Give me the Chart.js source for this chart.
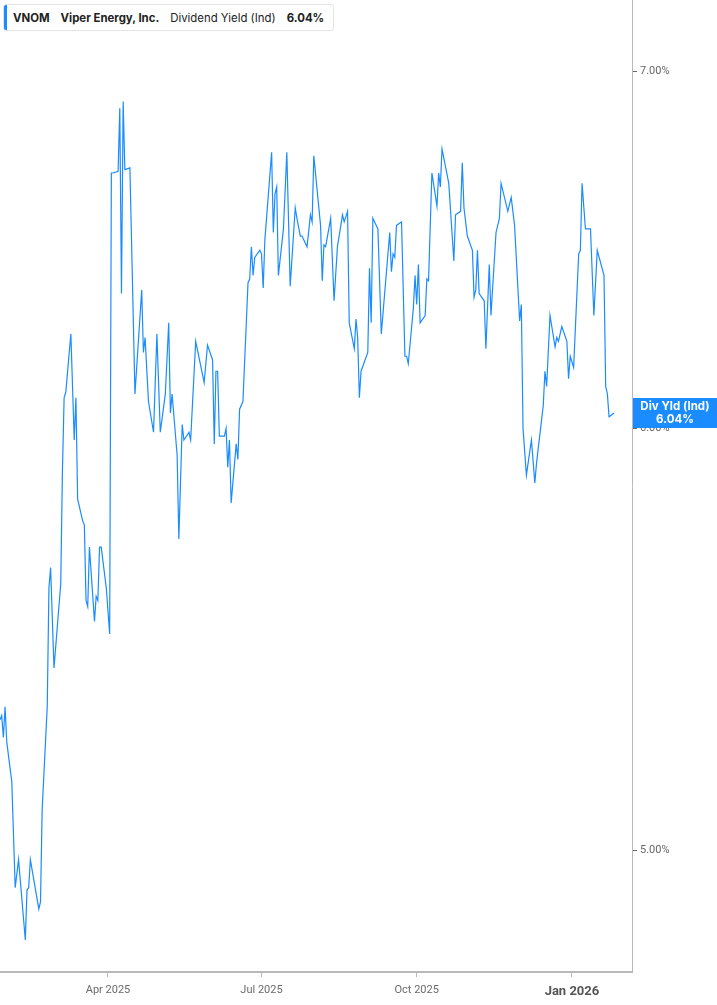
<!DOCTYPE html>
<html>
<head>
<meta charset="utf-8">
<title>VNOM Dividend Yield</title>
<script src="https://cdn.jsdelivr.net/npm/chart.js@4.4.1/dist/chart.umd.min.js"></script>
<style>
  html, body { margin: 0; padding: 0; background: #fff; }
  #wrap { position: relative; width: 717px; height: 1005px; }
  #legend {
    position: absolute; left: 3px; top: 4px; width: 331px; height: 27px;
    box-sizing: border-box; border: 1px solid #e4e4e4; border-radius: 3px;
    background: #fff; font: 11.4px Inter, "Noto Sans", sans-serif; color: #222;
    display: flex; align-items: center; padding-left: 9px; white-space: nowrap;
  }
  #legend .bar { position: absolute; left: 0; top: 0; bottom: 0; width: 3px; background: #1a8cff; border-radius: 2px 0 0 2px; }
  #legend span { margin-right: 11px; }
  #legend b { font-weight: 700; }
</style>
</head>
<body>
<div id="wrap">
  <canvas id="chart" width="717" height="1005"></canvas>
  <div id="legend"><div class="bar"></div><span><b>VNOM</b></span><span><b>Viper Energy, Inc.</b></span><span>Dividend Yield (Ind)</span><span><b>6.04%</b></span></div>
</div>
<script>
// trading days (vertices) and dividend yield in %
const dates = [
  '2025-01-27','2025-01-28','2025-01-29','2025-01-30','2025-01-31','2025-02-03','2025-02-05','2025-02-07','2025-02-11','2025-02-12',
  '2025-02-13','2025-02-14','2025-02-19','2025-02-20','2025-02-21','2025-02-24','2025-02-25','2025-02-26','2025-02-28','2025-03-04',
  '2025-03-05','2025-03-06','2025-03-07','2025-03-10','2025-03-12','2025-03-13','2025-03-14','2025-03-17','2025-03-18','2025-03-19',
  '2025-03-20','2025-03-21','2025-03-24','2025-03-25','2025-03-26','2025-03-27','2025-03-28','2025-03-31','2025-04-02','2025-04-03',
  '2025-04-04','2025-04-07','2025-04-08','2025-04-09','2025-04-10','2025-04-11','2025-04-14','2025-04-17','2025-04-21','2025-04-22',
  '2025-04-23','2025-04-25','2025-04-28','2025-04-30','2025-05-02','2025-05-05','2025-05-07','2025-05-08','2025-05-09','2025-05-12',
  '2025-05-13','2025-05-15','2025-05-16','2025-05-19','2025-05-20','2025-05-23','2025-05-28','2025-05-30','2025-06-02','2025-06-03',
  '2025-06-04','2025-06-05','2025-06-06','2025-06-09','2025-06-10','2025-06-11','2025-06-12','2025-06-13','2025-06-16','2025-06-17',
  '2025-06-18','2025-06-20','2025-06-23','2025-06-24','2025-06-25','2025-06-26','2025-06-27','2025-06-30','2025-07-01','2025-07-02',
  '2025-07-03','2025-07-07','2025-07-08','2025-07-09','2025-07-10','2025-07-11','2025-07-14','2025-07-16','2025-07-18','2025-07-21',
  '2025-07-22','2025-07-24','2025-07-25','2025-07-28','2025-07-30','2025-07-31','2025-08-01','2025-08-05','2025-08-06','2025-08-07',
  '2025-08-08','2025-08-11','2025-08-13','2025-08-15','2025-08-18','2025-08-19','2025-08-21','2025-08-22','2025-08-25','2025-08-26',
  '2025-08-27','2025-08-28','2025-08-29','2025-09-02','2025-09-03','2025-09-04','2025-09-05','2025-09-08','2025-09-10','2025-09-15',
  '2025-09-16','2025-09-17','2025-09-18','2025-09-19','2025-09-22','2025-09-24','2025-09-25','2025-09-26','2025-09-29','2025-09-30',
  '2025-10-01','2025-10-02','2025-10-03','2025-10-06','2025-10-07','2025-10-08','2025-10-10','2025-10-13','2025-10-14','2025-10-15',
  '2025-10-16','2025-10-20','2025-10-23','2025-10-24','2025-10-27','2025-10-28','2025-10-29','2025-10-31','2025-11-03','2025-11-04',
  '2025-11-05','2025-11-06','2025-11-07','2025-11-10','2025-11-11','2025-11-13','2025-11-14','2025-11-17','2025-11-19','2025-11-20',
  '2025-11-24','2025-11-26','2025-11-28','2025-12-01','2025-12-02','2025-12-03','2025-12-05','2025-12-08','2025-12-10','2025-12-11',
  '2025-12-15','2025-12-16','2025-12-17','2025-12-19','2025-12-22','2025-12-23','2025-12-24','2025-12-26','2025-12-29','2025-12-30',
  '2025-12-31','2026-01-02','2026-01-05','2026-01-06','2026-01-07','2026-01-09','2026-01-12','2026-01-14','2026-01-16','2026-01-20',
  '2026-01-21','2026-01-22','2026-01-23','2026-01-26'
];
const yields = [
  5.29, 5.30, 5.25, 5.32, 5.24, 5.15, 4.92, 4.98, 4.81, 4.915,
  4.92, 4.98, 4.875, 4.89, 5.09, 5.32, 5.60, 5.65, 5.41, 5.61,
  5.89, 6.08, 6.095, 6.25, 5.97, 6.08, 5.82, 5.765, 5.755, 5.57,
  5.555, 5.70, 5.52, 5.58, 5.57, 5.70, 5.70, 5.60, 5.49, 6.70,
  6.70, 6.705, 6.89, 6.36, 6.91, 6.71, 6.715, 6.09, 6.37, 6.20,
  6.24, 6.07, 5.99, 6.25, 5.99, 6.09, 6.28, 6.04, 6.09, 5.93,
  5.72, 6.01, 5.97, 5.99, 5.97, 6.23, 6.12, 6.22, 6.18, 5.96,
  6.15, 6.15, 5.98, 5.98, 6.00, 5.90, 5.97, 5.81, 5.96, 5.92,
  6.05, 6.07, 6.39, 6.40, 6.49, 6.41, 6.46, 6.48, 6.47, 6.375,
  6.51, 6.76, 6.53, 6.64, 6.66, 6.41, 6.54, 6.76, 6.38, 6.60,
  6.57, 6.52, 6.52, 6.49, 6.58, 6.56, 6.75, 6.55, 6.395, 6.495,
  6.49, 6.57, 6.34, 6.49, 6.58, 6.56, 6.59, 6.28, 6.21, 6.29,
  6.24, 6.08, 6.15, 6.20, 6.43, 6.28, 6.57, 6.54, 6.25, 6.53,
  6.42, 6.47, 6.46, 6.55, 6.56, 6.19, 6.19, 6.17, 6.32, 6.41,
  6.33, 6.44, 6.28, 6.30, 6.40, 6.395, 6.70, 6.605, 6.70, 6.66,
  6.77, 6.67, 6.45, 6.58, 6.59, 6.73, 6.60, 6.52, 6.48, 6.35,
  6.37, 6.48, 6.36, 6.34, 6.21, 6.44, 6.30, 6.53, 6.57, 6.67,
  6.59, 6.63, 6.55, 6.285, 6.33, 6.00, 5.88, 5.97, 5.86, 5.91,
  6.06, 6.15, 6.11, 6.30, 6.215, 6.24, 6.23, 6.27, 6.23, 6.13,
  6.19, 6.16, 6.47, 6.48, 6.67, 6.54, 6.54, 6.30, 6.48, 6.41,
  6.11, 6.09, 6.03, 6.04
];

const tickDates = ['2025-04-01', '2025-07-01', '2025-10-01', '2026-01-01'];
const tickLabels = ['Apr 2025', 'Jul 2025', 'Oct 2025', 'Jan 2026'];
const yTicks = [5, 6, 7];
const yMin = 4.744, yMax = 7.22;
const seriesLabel = 'Div Yld (Ind)';
const lineColor = '#1a8cff';

// day count from the first date, so the x axis runs on calendar time
const startDay = Date.UTC(2025, 0, 27);
function dayNum(s) {
  const [y, m, d] = s.split('-').map(Number);
  return (Date.UTC(y, m - 1, d) - startDay) / 86400000;
}

const points = dates.map((d, i) => ({ x: dayNum(d), y: yields[i] }));
const tickDays = tickDates.map(dayNum);

// last value box on the right axis
const lastLabel = {
  id: 'lastLabel',
  afterDraw(chart) {
    const { ctx, chartArea, scales: { y } } = chart;
    const v = yields[yields.length - 1];
    const py = y.getPixelForValue(v);
    const x0 = chartArea.right + 1;
    const w = chart.width - x0;
    ctx.save();
    ctx.fillStyle = lineColor;
    ctx.fillRect(x0, py - 15, w, 30);
    ctx.fillStyle = '#fff';
    ctx.font = 'bold 11.5px Inter, Roboto, sans-serif';
    ctx.textAlign = 'center';
    ctx.textBaseline = 'middle';
    ctx.fillText(seriesLabel, x0 + w / 2, py - 6);
    ctx.fillText(v.toFixed(2) + '%', x0 + w / 2, py + 7);
    ctx.restore();
  }
};

new Chart(document.getElementById('chart'), {
  type: 'line',
  data: {
    datasets: [{
      label: seriesLabel,
      data: points,
      borderColor: lineColor,
      borderWidth: 1.2,
      pointRadius: 0,
      tension: 0,
      fill: false
    }]
  },
  options: {
    responsive: false,
    animation: false,
    layout: { padding: 0 },
    plugins: { legend: { display: false }, tooltip: { enabled: false } },
    scales: {
      x: {
        type: 'linear',
        min: 0,
        max: 374.6,
        afterBuildTicks: s => { s.ticks = tickDays.map(v => ({ value: v })); },
        afterFit: s => { s.height = 33; s.paddingLeft = 0; s.paddingRight = 0; },
        grid: { drawOnChartArea: false, drawTicks: true, tickLength: 5, color: '#b8b8b8' },
        border: { display: true, color: '#b8b8b8', width: 2 },
        ticks: {
          autoSkip: false,
          maxRotation: 0,
          padding: 7,
          color: c => (c.index === tickLabels.length - 1 ? '#555' : '#6b6b6b'),
          font: c => (c.index === tickLabels.length - 1
            ? { family: 'Roboto', size: 13, weight: 'bold' }
            : { family: 'Roboto', size: 11 }),
          callback: (v, i) => tickLabels[i]
        }
      },
      y: {
        type: 'logarithmic',
        position: 'right',
        bounds: 'data',
        min: yMin,
        max: yMax,
        // the log scale rounds its ends, so put them back before pixels are set
        afterBuildTicks: s => { s.ticks = yTicks.map(v => ({ value: v })); s.min = yMin; s.max = yMax; },
        afterFit: s => { s.width = 85; s.paddingTop = 0; s.paddingBottom = 0; },
        grid: { drawOnChartArea: false, drawTicks: true, tickLength: 5, color: '#666' },
        border: { display: true, color: '#b8b8b8', width: 1 },
        ticks: {
          padding: 3,
          color: '#666',
          font: { family: 'Roboto', size: 11 },
          callback: v => Number(v).toFixed(2) + '%'
        }
      }
    }
  },
  plugins: [lastLabel]
});
</script>
</body>
</html>
